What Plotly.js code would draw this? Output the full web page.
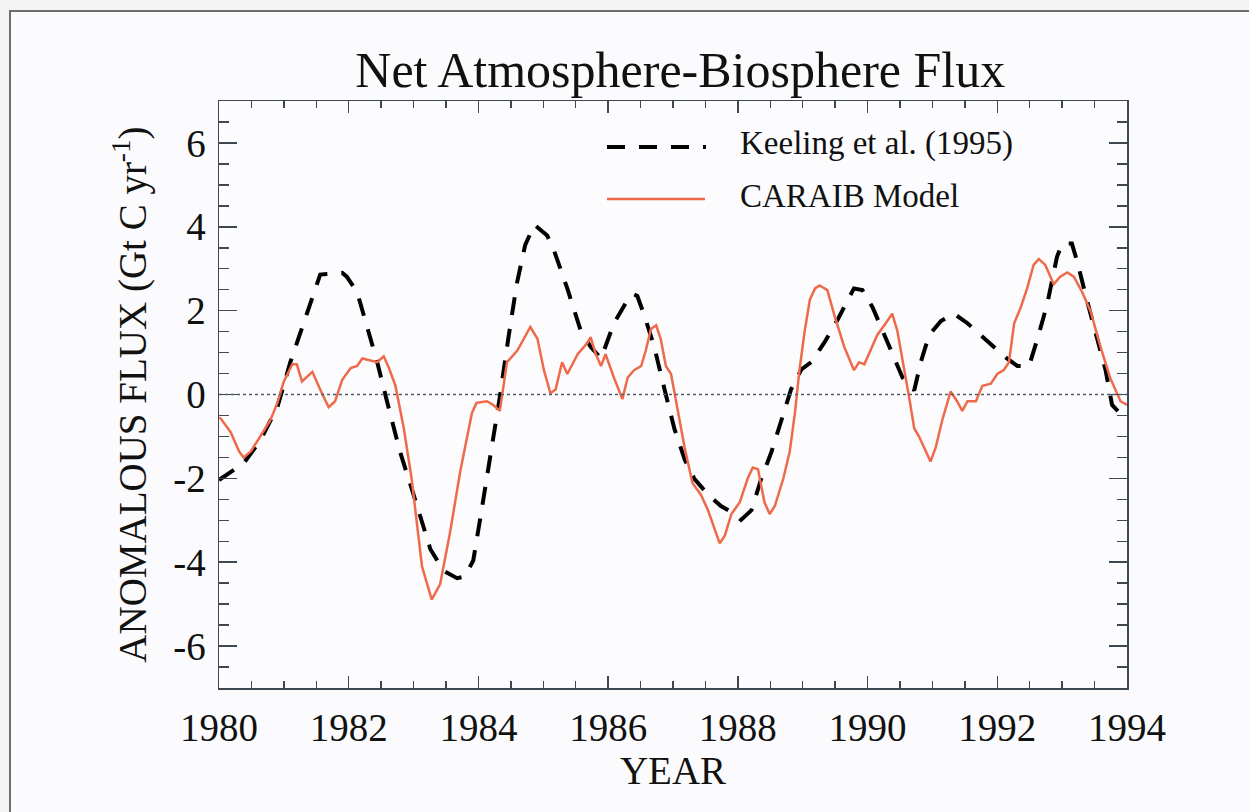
<!DOCTYPE html>
<html>
<head>
<meta charset="utf-8">
<script src="https://cdn.plot.ly/plotly-3.0.1.min.js"></script>
<style>
  html, body { margin: 0; padding: 0; background: #f6f6f7; overflow: hidden; }
  #wrap { position: relative; width: 1249px; height: 812px; }
  #chart { position: absolute; left: 0; top: 0; width: 1249px; height: 812px; background: #fbfbfd; }
  #frame { position: absolute; left: 9px; top: 10px; right: -5px; bottom: -5px;
           border-left: 2px solid #6e6e6e; border-top: 2px solid #6e6e6e;
           pointer-events: none; }
  #outer { position: absolute; left: 0; top: 0; width: 9px; height: 812px; background: #f4f4f4; }
  #outerTop { position: absolute; left: 0; top: 0; width: 1249px; height: 10px; background: #f4f4f4; }
</style>
</head>
<body>
<div id="wrap">
  <div id="chart"></div>
  <div id="outer"></div>
  <div id="outerTop"></div>
  <div id="frame"></div>
</div>
<script>
// ---- Keeling et al. (1995) ----
const keelingYears = [1980.0,1980.38,1980.64,1980.9,1981.1,1981.31,1981.56,1981.9,1981.97,1982.13,1982.28,1982.44,1982.59,1982.79,1983.0,1983.26,1983.46,1983.67,1983.79,1983.92,1984.03,1984.18,1984.33,1984.46,1984.59,1984.72,1984.86,1985.06,1985.16,1985.37,1985.58,1985.73,1985.89,1986.09,1986.3,1986.38,1986.45,1986.56,1986.71,1986.87,1987.02,1987.18,1987.33,1987.54,1987.74,1987.95,1988.05,1988.21,1988.36,1988.52,1988.67,1988.82,1988.98,1989.13,1989.33,1989.54,1989.79,1989.92,1990.08,1990.23,1990.38,1990.54,1990.72,1990.82,1990.95,1991.13,1991.33,1991.54,1991.74,1991.95,1992.15,1992.31,1992.49,1992.62,1992.77,1992.92,1993.0,1993.15,1993.23,1993.38,1993.54,1993.67,1993.77,1994.0];
const keelingFlux  = [-2.04,-1.64,-1.09,-0.30,0.77,1.70,2.86,2.9,2.81,2.44,1.61,0.77,-0.16,-1.36,-2.39,-3.69,-4.2,-4.38,-4.34,-3.96,-2.94,-1.55,-0.06,1.33,2.63,3.56,4.05,3.79,3.46,2.53,1.51,1.14,0.86,1.7,2.26,2.4,2.35,1.88,1.14,0.12,-0.81,-1.55,-2.01,-2.39,-2.66,-2.85,-2.99,-2.76,-2.01,-1.36,-0.62,0.12,0.6,0.77,1.23,1.79,2.53,2.49,2.07,1.51,0.96,0.4,0.1,0.77,1.42,1.75,1.93,1.7,1.42,1.14,0.86,0.68,0.68,1.33,2.16,3.28,3.6,3.6,3.18,2.26,1.33,0.58,-0.25,-0.62];

// ---- CARAIB Model ----
const caraibYears = [1980.0,1980.03,1980.18,1980.31,1980.38,1980.49,1980.64,1980.79,1980.9,1981.0,1981.13,1981.2,1981.28,1981.44,1981.56,1981.69,1981.79,1981.9,1982.03,1982.13,1982.21,1982.33,1982.44,1982.54,1982.62,1982.72,1982.85,1982.97,1983.05,1983.13,1983.28,1983.41,1983.56,1983.72,1983.9,1983.97,1984.13,1984.23,1984.33,1984.44,1984.6,1984.8,1984.91,1985.01,1985.11,1985.19,1985.29,1985.37,1985.53,1985.68,1985.73,1985.81,1985.89,1985.96,1986.09,1986.22,1986.3,1986.4,1986.51,1986.58,1986.66,1986.74,1986.81,1986.89,1986.97,1987.07,1987.18,1987.3,1987.43,1987.54,1987.64,1987.72,1987.8,1987.9,1988.03,1988.15,1988.23,1988.31,1988.41,1988.49,1988.57,1988.7,1988.8,1988.88,1988.95,1989.03,1989.11,1989.19,1989.26,1989.38,1989.49,1989.64,1989.79,1989.87,1989.95,1990.05,1990.15,1990.28,1990.38,1990.46,1990.56,1990.64,1990.72,1990.79,1990.9,1990.97,1991.05,1991.15,1991.28,1991.38,1991.46,1991.54,1991.67,1991.77,1991.9,1992.0,1992.1,1992.18,1992.26,1992.36,1992.46,1992.56,1992.64,1992.74,1992.87,1992.97,1993.08,1993.18,1993.31,1993.44,1993.59,1993.74,1993.9,1994.0];
const caraibFlux  = [-0.55,-0.58,-0.9,-1.36,-1.5,-1.36,-0.99,-0.62,-0.2,0.31,0.72,0.72,0.31,0.54,0.12,-0.3,-0.16,0.35,0.63,0.68,0.86,0.82,0.77,0.91,0.63,0.21,-0.81,-2.01,-3.0,-4.1,-4.89,-4.52,-3.31,-1.83,-0.44,-0.2,-0.16,-0.25,-0.39,0.77,1.05,1.61,1.33,0.58,0.03,0.12,0.77,0.49,0.96,1.23,1.37,0.96,0.68,0.96,0.4,-0.11,0.4,0.58,0.68,1.05,1.56,1.65,1.33,0.68,0.49,-0.34,-1.27,-2.11,-2.39,-2.76,-3.22,-3.55,-3.36,-2.85,-2.57,-2.01,-1.74,-1.78,-2.57,-2.85,-2.66,-2.01,-1.36,-0.44,0.58,1.51,2.26,2.53,2.6,2.49,1.88,1.14,0.58,0.77,0.72,1.05,1.42,1.7,1.93,1.51,0.68,-0.06,-0.81,-0.99,-1.36,-1.6,-1.27,-0.62,0.07,-0.16,-0.39,-0.16,-0.16,0.21,0.26,0.49,0.58,0.77,1.7,2.07,2.53,3.09,3.23,3.09,2.63,2.81,2.91,2.81,2.44,1.98,1.14,0.4,-0.16,-0.25];

// ---- ticks & labels ----
const xTickVals = [1980,1982,1984,1986,1988,1990,1992,1994];
const xTickText = ['1980','1982','1984','1986','1988','1990','1992','1994'];
const yTickVals = [-6,-4,-2,0,2,4,6];
const yTickText = ['-6','-4','-2','0','2','4','6'];
const seriesNames = ['Keeling et al. (1995)', 'CARAIB Model'];
const chartTitle = 'Net Atmosphere-Biosphere Flux';
const xTitle = 'YEAR';
const yTitle = 'ANOMALOUS FLUX (Gt C yr<sup>-1</sup>)';

const FONT = '"Liberation Serif", "Times New Roman", serif';
const RED = '#ef6a4b';
const AXC = '#3d4853';

const traces = [
  { x: keelingYears, y: keelingFlux, type: 'scatter', mode: 'lines', name: seriesNames[0],
    line: { color: '#000000', width: 4, dash: '18px,14px' }, showlegend: false },
  { x: caraibYears, y: caraibFlux, type: 'scatter', mode: 'lines', name: seriesNames[1],
    line: { color: RED, width: 2.5 }, showlegend: false }
];

const axisCommon = {
  showgrid: false, zeroline: false, showline: true, mirror: 'ticks',
  linecolor: AXC, linewidth: 1.5, ticks: 'inside', tickwidth: 1.5, tickcolor: AXC,
  tickfont: { family: FONT, size: 39, color: '#111' }
};

const layout = {
  width: 1249, height: 812,
  paper_bgcolor: 'rgba(0,0,0,0)', plot_bgcolor: '#fcfcfe',
  margin: { l: 219, r: 122, t: 101, b: 124 },
  font: { family: FONT, color: '#111' },
  title: { text: chartTitle, font: { family: FONT, size: 50, color: '#111' },
           x: 0.508, xref: 'paper', xanchor: 'center', y: 0.914, yref: 'container', yanchor: 'middle' },
  xaxis: Object.assign({}, axisCommon, {
    range: [1980, 1994], tickmode: 'array', tickvals: xTickVals, ticktext: xTickText,
    ticklen: 12, ticklabelstandoff: 5,
    minor: { dtick: 0.5, tick0: 1980, ticks: 'inside', ticklen: 7, tickwidth: 1.5, tickcolor: AXC },
    title: { text: xTitle, font: { family: FONT, size: 39, color: '#111' }, standoff: 2 }
  }),
  yaxis: Object.assign({}, axisCommon, {
    range: [-7, 7], tickmode: 'array', tickvals: yTickVals, ticktext: yTickText,
    ticklen: 18, ticklabelstandoff: 4,
    minor: { dtick: 0.5, tick0: 0, ticks: 'inside', ticklen: 10, tickwidth: 1.5, tickcolor: AXC },
    title: { text: yTitle, font: { family: FONT, size: 39, color: '#111' }, standoff: 14 }
  }),
  shapes: [
    { type: 'line', xref: 'paper', x0: 0, x1: 1, yref: 'y', y0: 0, y1: 0,
      line: { color: '#4f5d6b', width: 1.5, dash: 'dot' } },
    { type: 'line', xref: 'paper', x0: 0.4273, x1: 0.5363, yref: 'paper', y0: 0.9216, y1: 0.9216,
      line: { color: '#000', width: 4, dash: '18px,14px' } },
    { type: 'line', xref: 'paper', x0: 0.4273, x1: 0.5352, yref: 'paper', y0: 0.8330, y1: 0.8330,
      line: { color: RED, width: 2.5 } }
  ],
  annotations: [
    { text: seriesNames[0], xref: 'paper', yref: 'paper', x: 0.5716, y: 0.9284,
      xanchor: 'left', yanchor: 'middle', showarrow: false,
      font: { family: FONT, size: 33, color: '#111' } },
    { text: seriesNames[1], xref: 'paper', yref: 'paper', x: 0.5716, y: 0.8382,
      xanchor: 'left', yanchor: 'middle', showarrow: false,
      font: { family: FONT, size: 33, color: '#111' } }
  ]
};

Plotly.newPlot('chart', traces, layout, { displayModeBar: false, staticPlot: true });
</script>
</body>
</html>
